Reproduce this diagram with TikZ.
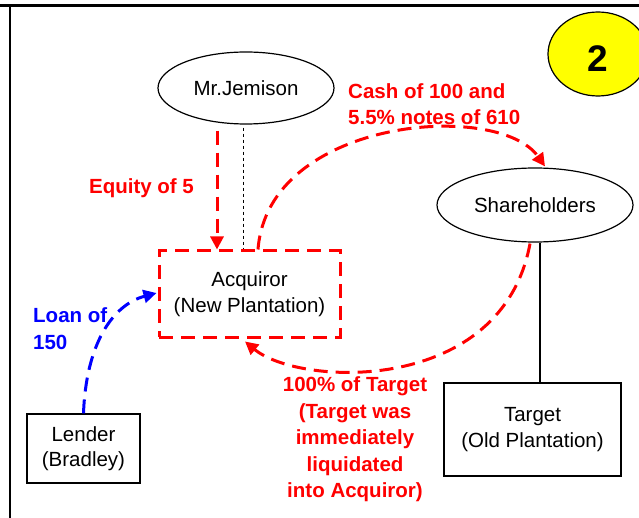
\documentclass[tikz,border=0pt]{standalone}
\usepackage{fontspec}
\setmainfont{Liberation Sans}
\usetikzlibrary{shapes.geometric,arrows.meta,calc}
\definecolor{myred}{RGB}{255,0,0}
\definecolor{myblue}{RGB}{0,0,255}
\definecolor{myyellow}{RGB}{255,255,0}
\begin{document}
\begin{tikzpicture}[x=1pt,y=1pt,
  every node/.style={font=\fontsize{20.5}{25.5}\selectfont},
  oval/.style={ellipse,draw,line width=1.2pt,inner sep=0pt},
  plainbox/.style={draw,line width=1.2pt,align=center,inner sep=0pt},
  flowred/.style={draw=myred,line width=3pt,dash pattern=on 14pt off 8pt,
    -{Triangle[length=13pt,width=13pt]}},
  flowblue/.style={draw=myblue,line width=3pt,dash pattern=on 14pt off 8pt,
    -{Triangle[length=13pt,width=13pt]}},
  redlabel/.style={text=myred,font=\bfseries\fontsize{20.5}{26.5}\selectfont,inner sep=0pt},
  bluelabel/.style={text=myblue,font=\bfseries\fontsize{20.5}{26.5}\selectfont,inner sep=0pt},
]
\clip (0,0) rectangle (639,-518);
\fill[white] (0,0) rectangle (639,-518);
% frame
\draw[line width=3pt] (0,-5.5) -- (639,-5.5);
\draw[line width=2.5pt] (10,-5.5) -- (10,-518);
% badge
\node[ellipse,draw,line width=1.2pt,fill=myyellow,minimum width=100pt,minimum height=84pt,inner sep=0pt] (badge) at (598,-54) {};
\node[font=\bfseries\fontsize{37}{40}\selectfont,inner sep=0pt] (two) at (598,-58.5) {2};
% nodes
\node[oval,minimum width=176pt,minimum height=72pt] (jem) at (246,-88) {Mr.Jemison};
\node[oval,minimum width=196pt,minimum height=74pt] (sh) at (535,-205) {Shareholders};
\node[draw=myred,line width=3pt,dash pattern=on 14pt off 8pt,minimum width=181pt,minimum height=86pt,align=center,inner sep=0pt] (acq) at (249.5,-294) {Acquiror\\(New Plantation)};
\node[plainbox,minimum width=113pt,minimum height=69pt] (lend) at (83.5,-448.5) {Lender\\(Bradley)};
\node[plainbox,minimum width=177pt,minimum height=93pt] (tgt) at (532.5,-429.5) {Target\\(Old Plantation)};
% connectors
\coordinate (eqs) at ($(jem.south)+(-29,-6)$);
\draw[flowred] (eqs) -- (eqs |- acq.north);
\coordinate (dts) at ($(jem.south)+(-3,-3)$);
\draw[line width=1pt,dash pattern=on 3pt off 3pt] (dts) -- (dts |- acq.north);
\draw[flowred] ($(acq.north)+(8.5,0)$) .. controls (268,-118) and (498,-100) .. ($(sh.north)+(10,1)$);
\draw[flowred] ($(sh.south)+(-5,-1)$) .. controls (502,-395) and (300,-387) .. ($(acq.south)+(-4.5,-3)$);
\coordinate (shl) at ($(sh.south)+(5,0)$);
\draw[line width=1.2pt] (shl) -- (shl |- tgt.north);
\draw[flowblue] (lend.north) .. controls (86,-345) and (112,-305) .. ($(acq.west)+(-1,1)$);
% labels
\node[redlabel] (eqlab) at (141.5,-188) {Equity of 5};
\node[redlabel,align=left,anchor=west] (cashlab) at (348,-104) {Cash of 100 and\\5.5\% notes of 610};
\node[redlabel,align=center] (tgtlab) at (355,-439.5) {100\% of Target\\(Target was\\immediately\\liquidated\\into Acquiror)};
\node[bluelabel,align=left,anchor=west] (loanlab) at (33,-328.5) {Loan of\\150};
\end{tikzpicture}
\end{document}
